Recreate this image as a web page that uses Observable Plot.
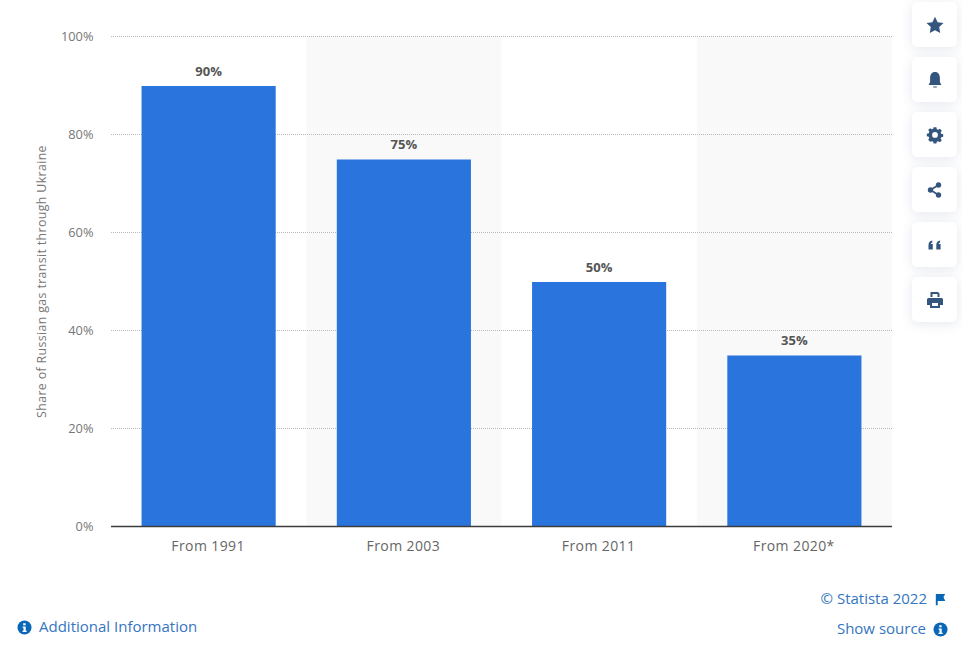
<!DOCTYPE html>
<html>
<head>
<meta charset="utf-8">
<script src="https://cdn.jsdelivr.net/npm/d3@7"></script>
<script src="https://cdn.jsdelivr.net/npm/@observablehq/plot@0.6"></script>
<style>
html,body{margin:0;padding:0;background:#fff;overflow:hidden}
#wrap{position:relative;width:962px;height:647px;font-family:"Open Sans",sans-serif}
.card{position:absolute;left:912px;width:45px;height:45px;background:#fff;border-radius:5px;box-shadow:0 2px 12px rgba(60,80,120,.13)}
.card svg{position:absolute;left:12.5px;top:12.5px;width:20px;height:20px;fill:#34557e}
.lnk{position:absolute;color:#3575c0;font-size:15px;line-height:20px;white-space:nowrap}
.ic{position:absolute;width:15px;height:15px}
g[aria-label="x-axis tick label"] text{letter-spacing:.4px}
.ylab text{letter-spacing:.35px}
</style>
</head>
<body>
<div id="wrap"></div>
<script>
const categories = ["From 1991", "From 2003", "From 2011", "From 2020*"];
const shares = [90, 75, 50, 35];
const shadedCategories = ["From 2003", "From 2020*"];
const yTicks = [0, 20, 40, 60, 80, 100];
const yLabel = "Share of Russian gas transit through Ukraine";
const rows = categories.map((c, i) => ({category: c, share: shares[i]}));
const font = '"Open Sans", sans-serif';

const chart = Plot.plot({
  width: 962, height: 647,
  marginLeft: 111, marginRight: 70, marginTop: 36, marginBottom: 121,
  style: {fontFamily: font, background: "transparent"},
  x: {domain: categories, paddingInner: 0.313, paddingOuter: 0.1565, round: false, label: null},
  y: {domain: [0, 100], label: null},
  marks: [
    Plot.barY(shadedCategories, {x: d => d, y1: 0, y2: 100, fill: "#f9f9f9", insetLeft: -30.5, insetRight: -30.5}),
    Plot.ruleY(yTicks.filter(t => t > 0), {y: d => d, stroke: "#b9b9b9", strokeWidth: 1, strokeDasharray: "1,1"}),
    Plot.barY(rows, {x: "category", y: "share", fill: "#2a75dd", insetTop: 1}),
    Plot.ruleY([0], {stroke: "#3c3c3c", strokeWidth: 1.5}),
    Plot.text(rows, {x: "category", y: "share", text: d => d.share + "%", dy: -14, dx: -0.5, fontSize: 13, fontWeight: 700, fill: "#555"}),
    Plot.axisY({ticks: yTicks, tickFormat: d => d + "%", tickSize: 0, tickPadding: 18, fontSize: 12.8, fill: "#777", label: null}),
    Plot.axisX({tickSize: 0, tickPadding: 15, dx: -1, fontSize: 14, fill: "#666", label: null}),
    Plot.text([yLabel], {frameAnchor: "left", textAnchor: "middle", text: d => d, rotate: -90, dx: -69, fontSize: 12.4, fill: "#777", className: "ylab"})
  ]
});
const wrap = document.getElementById("wrap");
wrap.appendChild(chart);

const icons = [
  '<path d="M10 1.8l2.6 5.4 5.9.8-4.3 4.1 1 5.9L10 15.2 4.8 18l1-5.9L1.5 8l5.9-.8z"/>',
  '<path d="M10 2c3.3 0 4.9 2.7 4.9 6v4l1.5 3H3.6l1.5-3V8c0-3.3 1.6-6 4.9-6zM8.2 16.5h3.6v1H8.2z"/>',
  '<path fill-rule="evenodd" d="M8.3 1.5h3.4l.5 2.5 1.6.7 2.2-1.4 2.3 2.4-1.4 2.1.7 1.7 2.4.5v3.2l-2.4.5-.7 1.7 1.4 2.1-2.3 2.4-2.2-1.4-1.6.7-.5 2.1H8.3l-.5-2.1-1.6-.7L4 19.2l-2.3-2.4 1.4-2.1-.7-1.7L0 12.5V9.3l2.4-.5.7-1.7-1.4-2.1L4 2.6l2.2 1.4 1.6-.7zM10 7.4a3.5 3.5 0 1 0 0 7 3.5 3.5 0 0 0 0-7z" transform="translate(1.8 1) scale(.82)"/>',
  '<circle cx="13.5" cy="5" r="2.7"/><circle cx="5.5" cy="10" r="2.7"/><circle cx="13.5" cy="15" r="2.7"/><path d="M5 9.2l8-5 .9 1.6-8 5zM6 9.2l8 5-.9 1.6-8-5z"/>',
  '<path d="M3 10c0-2.7 1.6-4.2 3.8-4.5v2c-.8.2-1.3.8-1.4 1.6h1.9v5.4H3zM10.8 10c0-2.7 1.6-4.2 3.8-4.5v2c-.8.2-1.3.8-1.4 1.6h1.9v5.4h-4.3z" transform="translate(.5 0)"/>',
  '<path fill-rule="evenodd" d="M5.5 2h7.5l1.5 1.5V7h-2V4H7.5v3h-2zM3.5 8h13A1.5 1.5 0 0 1 18 9.5V15h-3v3H5v-3H2V9.5A1.5 1.5 0 0 1 3.5 8zM7 13v3h6v-3z"/>'
];
const tops = [2, 57, 112, 167, 222, 277];
icons.forEach((p, i) => {
  const c = document.createElement("div");
  c.className = "card";
  c.style.top = tops[i] + "px";
  c.innerHTML = '<svg viewBox="0 0 20 20">' + p + '</svg>';
  wrap.appendChild(c);
});
const info = '<svg viewBox="0 0 16 16"><circle cx="8" cy="8" r="7.5" fill="#0a66b7"/><path fill="#fff" d="M6.6 3.4h2.6v2.2H6.6zM6 6.8h3.3v4.6h1v1.4H5.9v-1.4h1V8.2H6z"/></svg>';
const flag = '<svg viewBox="0 0 16 16"><path fill="#0a66b7" d="M3 2h2v12H3zM5 2h8l-1.8 3.4L13 9.5H5z"/></svg>';
function link(text, css) { const d = document.createElement("div"); d.className = "lnk"; d.style.cssText = css; d.textContent = text; wrap.appendChild(d); }
function ic(svg, x, y) { const d = document.createElement("div"); d.className = "ic"; d.style.left = x + "px"; d.style.top = y + "px"; d.innerHTML = svg; wrap.appendChild(d); }
link("Additional Information", "left:39px;top:616px");
link("© Statista 2022", "right:35px;top:588px");
link("Show source", "right:36px;top:618px");
ic(info, 17, 618);
ic(flag, 933, 590);
ic(info, 933, 620);
</script>
</body>
</html>
